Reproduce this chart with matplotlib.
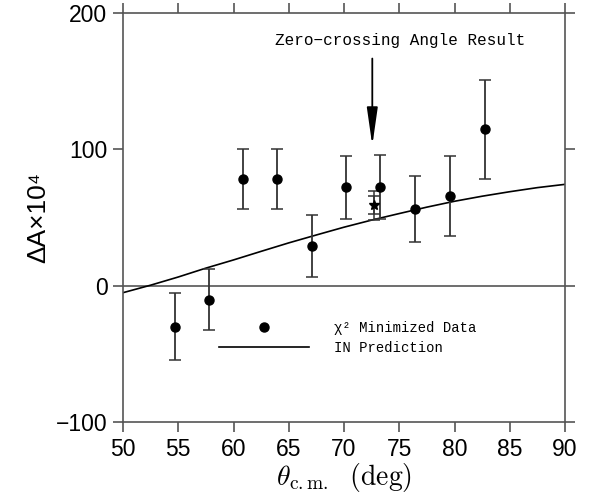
import matplotlib
matplotlib.use("Agg")
import matplotlib.pyplot as plt
from matplotlib.lines import Line2D

plt.rcParams['mathtext.fontset'] = 'cm'

# measured points: angle (deg), asymmetry difference x 10^4, error
theta = [54.7, 57.8, 60.9, 63.9, 67.1, 70.2, 73.3, 76.4, 79.6, 82.8]
dA = [-30.0, -10.0, 78.6, 78.6, 29.3, 72.2, 72.7, 56.3, 65.8, 114.6]
dA_err = [24.5, 22.5, 22.0, 22.0, 22.5, 23.0, 23.5, 24.4, 29.6, 36.0]

# zero crossing result (star) with two error sizes
zc_theta = [72.7]
zc_val = [59.0]
zc_err_outer = [10.5]
zc_err_inner = [6.5]

# IN prediction curve
pred_theta = [50, 52.5, 55, 57.5, 60, 62.5, 65, 67.5, 70, 72.5,
              75, 77.5, 80, 82.5, 85, 87.5, 90]
pred_val = [-5.0, 0.5, 6.5, 13.0, 19.0, 25.3, 31.5, 37.3, 43.0, 48.2,
            53.0, 57.7, 62.0, 65.7, 69.0, 72.0, 74.4]

arrow_x = 72.56
arrow_tip = 102.9
arrow_tail = 166.6

fig = plt.figure(figsize=(5.92, 4.99), dpi=100)
ax = fig.add_axes([0.2078, 0.1537, 0.7466, 0.8203])

axcol = '#555555'
for s in ax.spines.values():
    s.set_color(axcol)
    s.set_linewidth(1.2)

ax.axhline(0, color=axcol, lw=1.2, zorder=1)

ax.plot(pred_theta, pred_val, color='black', lw=1.2)

ax.errorbar(theta, dA, yerr=dA_err, fmt='o', color='black', ecolor='#333333',
            markersize=6.5, elinewidth=1.3, capsize=4, capthick=1.1)

ax.errorbar(zc_theta, zc_val, yerr=zc_err_outer, fmt='*', color='black',
            ecolor='#333333', markersize=7, elinewidth=1.1, capsize=4, capthick=1.1)
ax.errorbar(zc_theta, zc_val, yerr=zc_err_inner, fmt='none',
            ecolor='#333333', elinewidth=1.1, capsize=4, capthick=1.1)

ax.annotate('', xy=(arrow_x, arrow_tip), xytext=(arrow_x, arrow_tail),
            arrowprops=dict(arrowstyle='-|>,head_length=2.3,head_width=0.33',
                            mutation_scale=10, color='black', lw=1.3,
                            shrinkA=0, shrinkB=0))
ax.text(75.07, 179.7, 'Zero\u2212crossing Angle Result', ha='center', va='center',
        fontsize=11.5, family=['Liberation Mono', 'DejaVu Sans Mono'])

h_dot = Line2D([], [], marker='o', ls='none', color='black', markersize=6.5)
h_line = Line2D([], [], color='black', lw=1.2)
ax.legend([h_dot, h_line], ['χ² Minimized Data', 'IN Prediction'],
          loc='upper left', bbox_to_anchor=(0.217, 0.248),
          frameon=False, borderpad=0, borderaxespad=0,
          handlelength=6.5, handletextpad=1.8, labelspacing=0.45,
          prop={'family': ['Liberation Mono', 'DejaVu Sans Mono'], 'size': 10})

ax.set_xlim(50, 90)
ax.set_ylim(-100, 200)
ax.set_xticks(range(50, 91, 5))
ax.set_yticks([-100, 0, 100, 200])
ax.set_yticklabels(['\u2212100', '0', '100', '200'])
ax.tick_params(direction='out', length=7.2, width=1.2, color=axcol,
               top=True, right=True, labelsize=16.5, pad=4)
for lab in ax.get_xticklabels() + ax.get_yticklabels():
    lab.set_family(['Liberation Sans', 'DejaVu Sans'])

ax.set_xlabel(r'$\theta_{\rm c.m.}\ \ ({\rm deg})$', fontsize=20, labelpad=0)
ax.set_ylabel('ΔA×10⁴', fontsize=19, family=['Liberation Sans', 'DejaVu Sans'],
              labelpad=4)

fig.savefig('out.png', dpi=100)
